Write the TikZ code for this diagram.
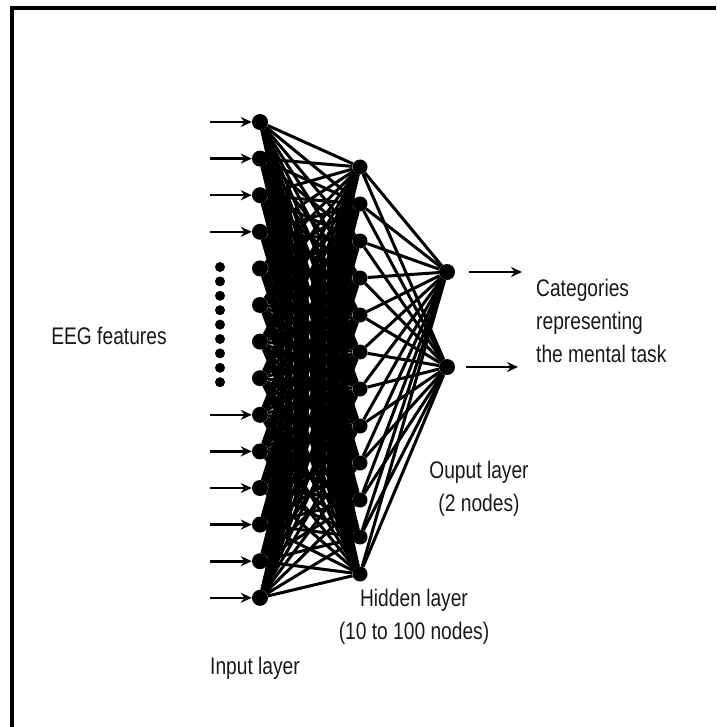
\documentclass[tikz,border=0pt]{standalone}
\usepackage{fontspec}
\setmainfont{Liberation Sans}[FakeStretch=0.8]
\usetikzlibrary{arrows.meta}

\begin{document}
\begin{tikzpicture}[
    x=1pt, y=-1pt,
    neuron/.style={circle, fill=black, inner sep=0pt, minimum size=16pt},
    link/.style={line width=3pt},
    arrow/.style={-{Stealth[length=11pt, width=10pt]}, line width=2.6pt},
    lbl/.style={font=\fontsize{24}{33}\selectfont, text=black!90, align=center, inner sep=0pt}
]
    \useasboundingbox (0,0) rectangle (716,727);

    % --- Frame (only top and left edges show) ---
    \draw[line width=3.5pt] (12,727) -- (12,8) -- (716,8);

    % --- Layers ---
    \foreach \i in {0,...,13}
        \node[neuron] (in\i) at (260, {122+36.6*\i}) {};
    \foreach \j in {0,...,11}
        \node[neuron, minimum size=15pt] (hid\j) at (360, {167+37*\j}) {};
    \node[neuron] (out1) at (447, 272) {};
    \node[neuron] (out2) at (447, 367) {};

    % --- Full connections ---
    \foreach \i in {0,...,13}
        \foreach \j in {0,...,11}
            \draw[link] (in\i) -- (hid\j);
    \foreach \j in {0,...,11} {
        \draw[link] (hid\j) -- (out1);
        \draw[link] (hid\j) -- (out2);
    }

    % --- Inputs ---
    \foreach \i in {0,1,2,3,8,9,10,11,12,13} {
        \coordinate (feat\i) at (210, {122+36.6*\i});
        \draw[arrow] (feat\i) -- (in\i);
    }
    \foreach \k in {0,...,8}
        \fill (220, {267+14.4*\k}) circle (5pt);

    % --- Outputs ---
    \coordinate (cat1) at (522, 272);
    \coordinate (cat2) at (518, 367);
    \draw[arrow, shorten <=14pt] (out1) -- (cat1);
    \draw[arrow, shorten <=11pt] (out2) -- (cat2);

    % --- Labels ---
    \node[lbl] (eeg) at (109, 336) {EEG features};
    \node[lbl, align=left, anchor=west] (cats) at (536, 321) {Categories\\representing\\the mental task};
    \node[lbl] (outlbl) at (479, 489) {Ouput layer\\(2 nodes)};
    \node[lbl] (hidlbl) at (414, 617) {Hidden layer\\(10 to 100 nodes)};
    \node[lbl] (inlbl) at (255, 668) {Input layer};
\end{tikzpicture}
\end{document}
